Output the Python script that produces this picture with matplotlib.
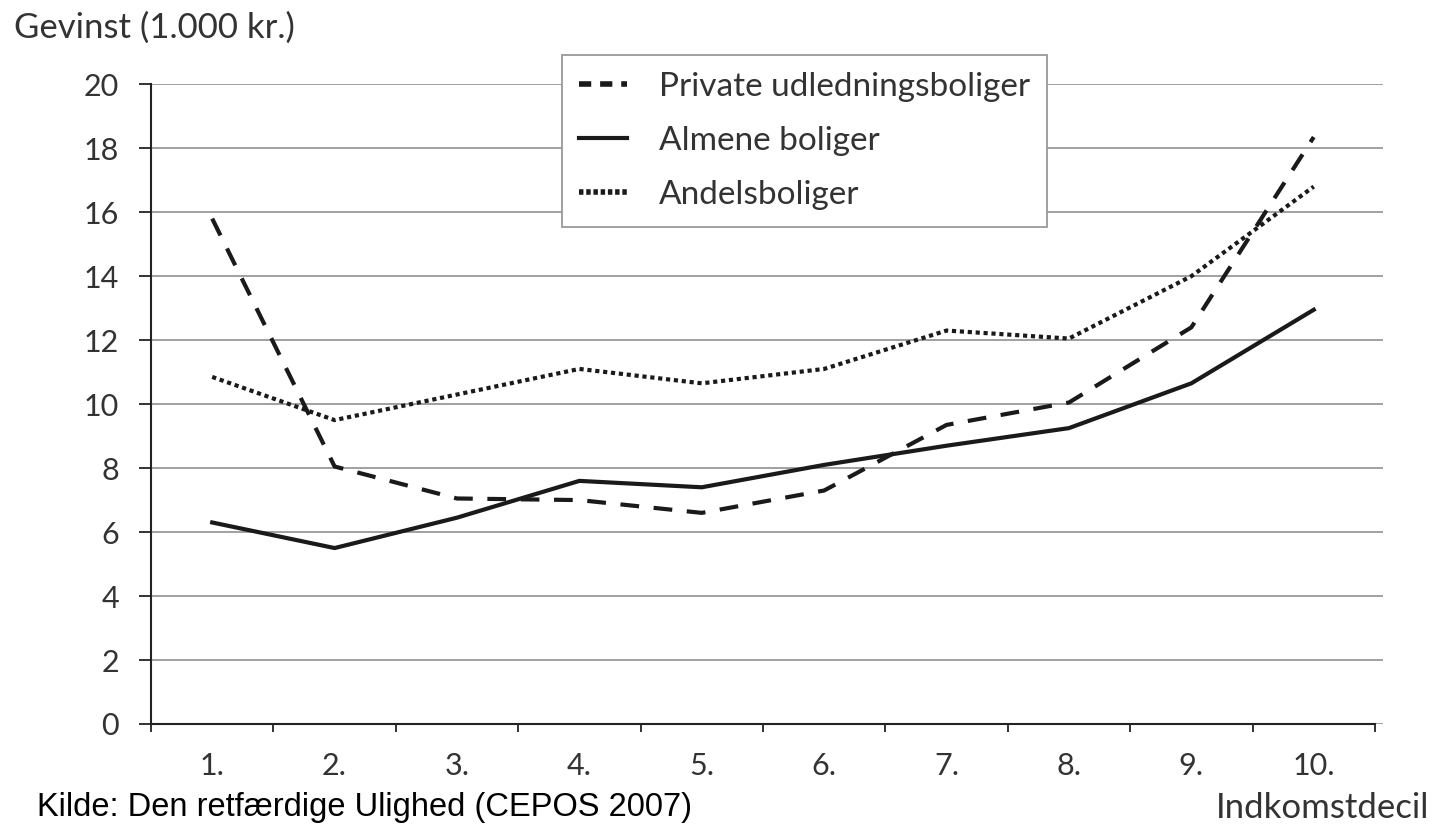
import matplotlib
matplotlib.use("Agg")
import matplotlib.pyplot as plt
from matplotlib.lines import Line2D

deciles = ["1.", "2.", "3.", "4.", "5.", "6.", "7.", "8.", "9.", "10."]
private = [15.8, 8.05, 7.05, 7.0, 6.6, 7.3, 9.35, 10.05, 12.4, 18.35]
almene = [6.3, 5.5, 6.45, 7.6, 7.4, 8.1, 8.7, 9.25, 10.65, 12.95]
andel = [10.85, 9.5, 10.3, 11.1, 10.65, 11.1, 12.3, 12.05, 14.0, 16.8]
yticks = [0, 2, 4, 6, 8, 10, 12, 14, 16, 18, 20]

series_labels = ["Private udledningsboliger", "Almene boliger", "Andelsboliger"]

font = "Lato"
fig = plt.figure(figsize=(14.34, 8.26), dpi=100)
ax = fig.add_axes([0.1053, 0.1235, 0.8591, 0.7745])

x = list(range(1, len(deciles) + 1))
lw = 3.0
l1, = ax.plot(x, private, color="#1a1a1a", lw=lw, linestyle=(0, (4.5, 3.5)),
              solid_joinstyle="miter", dash_capstyle="butt")
l2, = ax.plot(x, almene, color="#1a1a1a", lw=lw, linestyle="-")
l3, = ax.plot(x, andel, color="#1a1a1a", lw=lw, linestyle=(0, (1.0, 0.9)),
              dash_capstyle="butt")

ax.set_ylim(0, 20)
ax.set_xlim(0.5, 10.5 + 8 / 122.4)
ax.set_yticks(yticks)
ax.set_yticklabels([str(v) for v in yticks], fontsize=22, family=font, color="#333333")
ax.yaxis.grid(True, color="#999999", lw=1.3)
ax.set_axisbelow(True)

# bin boundary ticks (major) and centered labels (minor)
ax.set_xticks([i + 0.5 for i in range(0, len(deciles) + 1)])
ax.set_xticklabels([])
ax.set_xticks(x, minor=True)
ax.set_xticklabels(deciles, minor=True, fontsize=22, family=font, color="#333333")
ax.tick_params(axis="x", which="major", direction="out", length=6, width=1.3, color="#222222")
ax.tick_params(axis="x", which="minor", length=0, pad=20)
ax.tick_params(axis="y", direction="out", length=9, width=1.3, color="#222222", pad=14)

for s in ["top", "right"]:
    ax.spines[s].set_visible(False)
ax.spines["left"].set_color("#222222")
ax.spines["left"].set_linewidth(1.5)
ax.spines["bottom"].set_color("#222222")
ax.spines["bottom"].set_linewidth(1.5)
ax.spines["bottom"].set_bounds(0.5, 10.5)

handles = [Line2D([0], [0], color="#1a1a1a", lw=4, linestyle=(0, (2.2, 1.6))),
           Line2D([0], [0], color="#1a1a1a", lw=3, linestyle="-"),
           Line2D([0], [0], color="#1a1a1a", lw=4, linestyle=(0, (0.8, 0.5)))]
leg = ax.legend(handles, series_labels, loc="upper left",
                bbox_to_anchor=(0.334, 1.045), frameon=True, fancybox=False,
                prop={"family": font, "size": 24}, handlelength=1.45,
                handletextpad=0.95, labelspacing=0.72, borderpad=0.5,
                borderaxespad=0)
leg.get_frame().set_edgecolor("#999999")
leg.get_frame().set_linewidth(1.3)
leg.get_frame().set_facecolor("white")
leg.get_frame().set_alpha(1)
for t in leg.get_texts():
    t.set_color("#333333")

fig.text(0.0098, 0.967, "Gevinst (1.000 kr.)", fontsize=25, family=font,
         color="#333333", ha="left", va="center")
fig.text(0.997, 0.022, "Indkomstdecil", fontsize=25, family=font,
         color="#333333", ha="right", va="center")
fig.text(0.026, 0.022, "Kilde: Den retfærdige Ulighed (CEPOS 2007)", fontsize=23.5,
         family="Liberation Sans", color="black", ha="left", va="center")

fig.savefig("out.png", dpi=100, facecolor="white")
